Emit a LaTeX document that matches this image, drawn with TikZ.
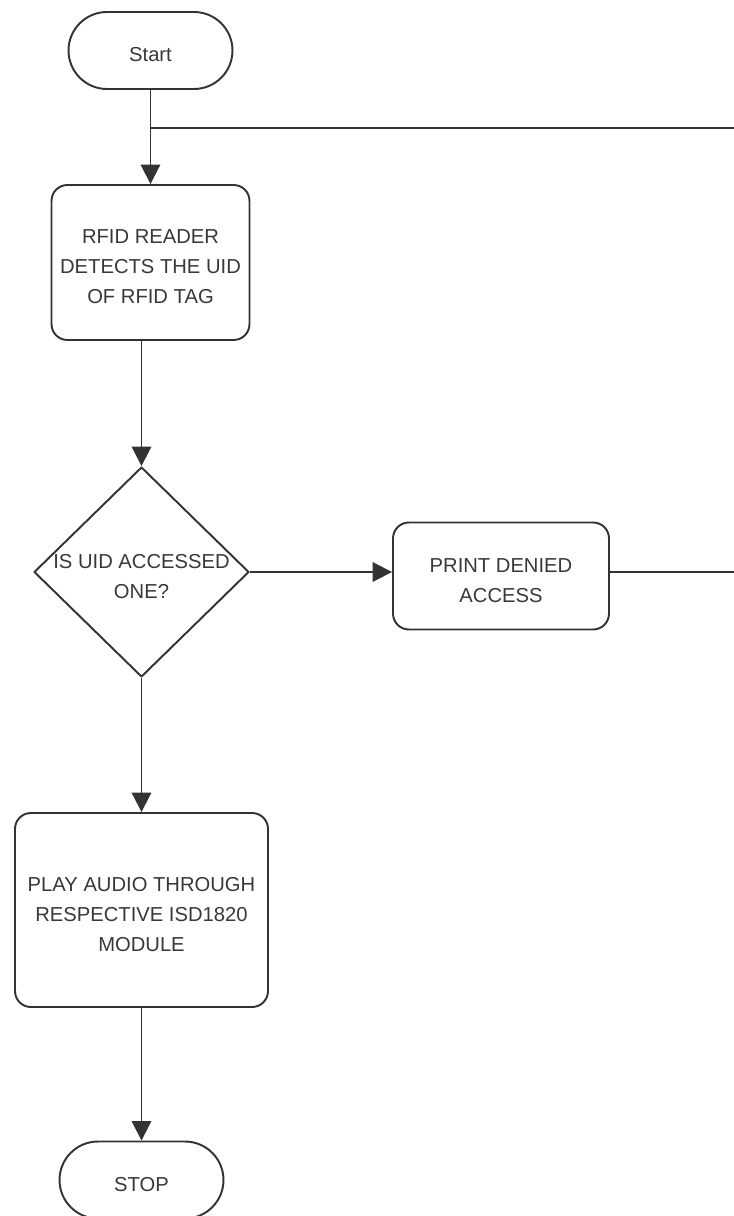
\documentclass[tikz,border=0pt]{standalone}
\usepackage{fontspec}
\setmainfont{Liberation Sans}
\usetikzlibrary{shapes.geometric,shapes.misc,arrows.meta}

\begin{document}
\begin{tikzpicture}[x=0.02cm, y=-0.02cm, line join=round,
    every node/.style={font=\fontsize{11.5}{17}\selectfont, text=black!78},
    terminal/.style={draw=black!80, line width=1.1pt, rounded rectangle, minimum width=3.28cm, minimum height=1.54cm, inner sep=0pt},
    process/.style={draw=black!80, line width=1.1pt, rectangle, rounded corners=9pt, inner sep=0pt},
    decision/.style={draw=black!80, line width=1.1pt, diamond, inner sep=0pt, minimum width=4.3cm, minimum height=4.2cm},
    caption/.style={align=center, yshift=-0.09cm},
    flow/.style={draw=black!80, line width=1.1pt, -{Triangle[length=11pt, width=11pt]}},
    link/.style={draw=black!80, line width=1.1pt}]

    % Frame
    \useasboundingbox (0,0) rectangle (733,1216);

    % Coordinates
    \coordinate (join) at (150.5, 128);
    \coordinate (back) at (745, 572);

    % Shapes
    \node[terminal] (start) at (150.5, 50.5) {};
    \node[process, minimum width=3.96cm, minimum height=3.1cm] (read) at (150.5, 262.5) {};
    \node[decision] (check) at (141.5, 572) {};
    \node[process, minimum width=4.32cm, minimum height=2.14cm] (deny) at (501, 576) {};
    \node[process, minimum width=5.06cm, minimum height=3.88cm] (play) at (141.5, 910) {};
    \node[terminal] (stop) at (141.5, 1180) {};

    % Texts
    \node[caption] (starttxt) at (start) {Start};
    \node[caption] (readtxt) at (read) {RFID READER\\DETECTS THE UID\\OF RFID TAG};
    \node[caption] (checktxt) at (check) {IS UID ACCESSED\\ONE?};
    \node[caption] (denytxt) at (deny) {PRINT DENIED\\ACCESS};
    \node[caption] (playtxt) at (play) {PLAY AUDIO THROUGH\\RESPECTIVE ISD1820\\MODULE};
    \node[caption] (stoptxt) at (stop) {STOP};

    % Main flow
    \draw[flow] (start) -- (read);
    \draw[flow] (read.south -| check.north) -- (check.north);
    \draw[flow] (check) -- (play);
    \draw[flow] (play) -- (stop);

    % Denied branch and loop back
    \draw[flow] (check.east) -- (check.east -| deny.west);
    \draw[link] (check.east -| deny.east) -- (back) |- (join);

\end{tikzpicture}
\end{document}
